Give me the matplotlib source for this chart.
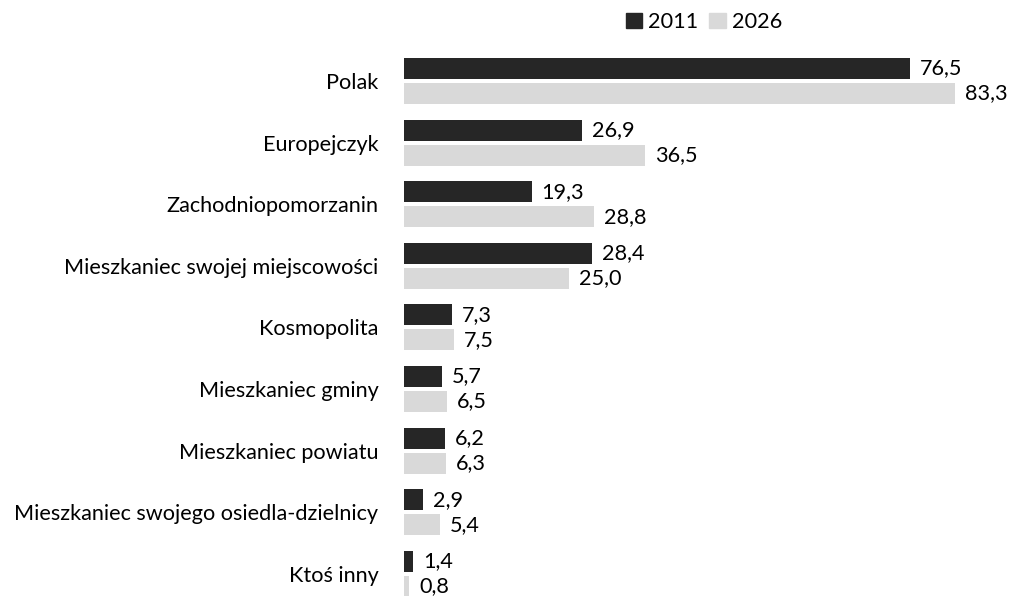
import matplotlib
matplotlib.use("Agg")
import matplotlib.pyplot as plt
from matplotlib.patches import Patch

categories = ["Polak", "Europejczyk", "Zachodniopomorzanin", "Mieszkaniec swojej miejscowości",
              "Kosmopolita", "Mieszkaniec gminy", "Mieszkaniec powiatu",
              "Mieszkaniec swojego osiedla-dzielnicy", "Ktoś inny"]
v2011 = [76.5, 26.9, 19.3, 28.4, 7.3, 5.7, 6.2, 2.9, 1.4]
v2026 = [83.3, 36.5, 28.8, 25.0, 7.5, 6.5, 6.3, 5.4, 0.8]
series_names = ["2011", "2026"]
colors = ["#262626", "#d9d9d9"]

plt.rcParams['font.family'] = ['Lato', 'DejaVu Sans']
FS = 15.6

W, H = 1011, 596
fig = plt.figure(figsize=(W/100, H/100), dpi=100)
left = 404
xmax = 90
width_px = xmax * 6.61
step = 61.6
y0c = 81
top_px = y0c - 0.5*step
bottom_px = y0c + 8.5*step
ax = fig.add_axes([left/W, 1 - bottom_px/H, width_px/W, (bottom_px-top_px)/H])
ax.set_xlim(0, xmax)
ax.set_ylim(8.5, -0.5)

bh = 21/step
off = 12.5/step
ys = list(range(len(categories)))
ax.barh([y - off for y in ys], v2011, height=bh, color=colors[0])
ax.barh([y + off for y in ys], v2026, height=bh, color=colors[1])

def fmt(v):
    return f"{v:.1f}".replace(".", ",")

for y, a, b in zip(ys, v2011, v2026):
    ax.annotate(fmt(a), (a, y - off), xytext=(10, 0), textcoords="offset pixels",
                va="center", ha="left", fontsize=FS, color="black")
    ax.annotate(fmt(b), (b, y + off), xytext=(10, 0), textcoords="offset pixels",
                va="center", ha="left", fontsize=FS, color="black")

ax.set_yticks(ys)
ax.set_yticklabels(categories, fontsize=FS)
ax.tick_params(axis="y", length=0, pad=18.5)
ax.set_xticks([])
for s in ax.spines.values():
    s.set_visible(False)

handles = [Patch(color=c) for c in colors]
fig.legend(handles, series_names, loc="center", bbox_to_anchor=(704/W, 1 - 22/H),
           ncol=2, frameon=False, fontsize=FS, handlelength=0.75, handleheight=0.75,
           handletextpad=0.3, columnspacing=0.5, borderpad=0, borderaxespad=0)

fig.savefig("out.png", dpi=100)
